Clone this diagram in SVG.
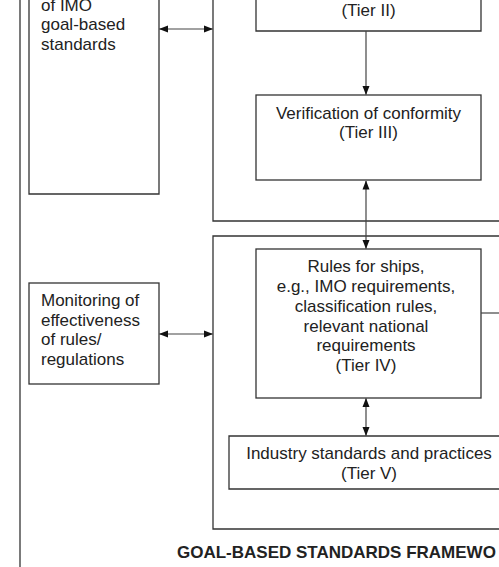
<svg xmlns="http://www.w3.org/2000/svg" width="499" height="567" viewBox="0 0 499 567">
<style>
.box{fill:none;stroke:#333;stroke-width:1.3}
.ln{fill:none;stroke:#333;stroke-width:1.3}
.ar{fill:none;stroke:#444;stroke-width:1.2}
.t{font-family:"Liberation Sans",Arial,sans-serif;font-size:17px;fill:#222}
.c{text-anchor:middle}
.ttl{font-family:"Liberation Sans",Arial,sans-serif;font-size:17px;font-weight:bold;fill:#222}
</style>
<defs>
<marker id="ah" markerUnits="userSpaceOnUse" markerWidth="9" markerHeight="8" refX="8.5" refY="3.5" orient="auto-start-reverse" viewBox="0 0 9 7">
<path d="M0,0 L9,3.5 L0,7 z" fill="#111"/>
</marker>
</defs>
<rect width="499" height="567" fill="#fff"/>
<g id="frame">
<line class="ln" x1="20" y1="0" x2="20" y2="567"/>
<path class="ln" d="M213,-5 V221 H505"/>
<path class="ln" d="M505,236 H213 V529 H505"/>
</g>
<g id="imo-gbs">
<path class="box" d="M29,-5 V194 H159 V-5"/>
<text class="t" x="41" y="10.5">of IMO</text>
<text class="t" x="41" y="30">goal-based</text>
<text class="t" x="41" y="49.5">standards</text>
</g>
<g id="tier2">
<path class="box" d="M256,-5 V31 H481 V-5"/>
<text class="t c" x="368.5" y="15.5">(Tier II)</text>
</g>
<g id="tier3">
<rect class="box" x="256" y="95" width="225" height="85"/>
<text class="t c" x="368.5" y="118.5">Verification of conformity</text>
<text class="t c" x="368.5" y="138">(Tier III)</text>
</g>
<g id="monitoring">
<rect class="box" x="29" y="283" width="130" height="101"/>
<text class="t" x="41" y="306">Monitoring of</text>
<text class="t" x="41" y="325.5">effectiveness</text>
<text class="t" x="41" y="345">of rules/</text>
<text class="t" x="41" y="364.5">regulations</text>
</g>
<g id="tier4">
<rect class="box" x="256" y="249" width="225" height="149"/>
<text class="t c" x="366" y="272">Rules for ships,</text>
<text class="t c" x="366" y="292">e.g., IMO requirements,</text>
<text class="t c" x="366" y="311.5">classification rules,</text>
<text class="t c" x="366" y="331.5">relevant national</text>
<text class="t c" x="366" y="351">requirements</text>
<text class="t c" x="366" y="371">(Tier IV)</text>
</g>
<g id="tier5">
<path class="box" d="M505,436 H229 V489 H505"/>
<text class="t c" x="369" y="459">Industry standards and practices</text>
<text class="t c" x="369" y="479">(Tier V)</text>
</g>
<g id="connectors">
<line class="ar" x1="159.5" y1="29" x2="212.5" y2="29" marker-start="url(#ah)" marker-end="url(#ah)"/>
<line class="ar" x1="159.5" y1="334" x2="212.5" y2="334" marker-start="url(#ah)" marker-end="url(#ah)"/>
<line class="ar" x1="366" y1="31" x2="366" y2="94.5" marker-end="url(#ah)"/>
<line class="ar" x1="366" y1="181" x2="366" y2="248.5" marker-start="url(#ah)" marker-end="url(#ah)"/>
<line class="ar" x1="366" y1="398.5" x2="366" y2="435.5" marker-start="url(#ah)" marker-end="url(#ah)"/>
<line class="ar" x1="481" y1="313" x2="505" y2="313" stroke="#666"/>
</g>
<g id="title">
<text class="ttl" x="177" y="558">GOAL-BASED STANDARDS FRAMEWO</text>
</g>
</svg>
